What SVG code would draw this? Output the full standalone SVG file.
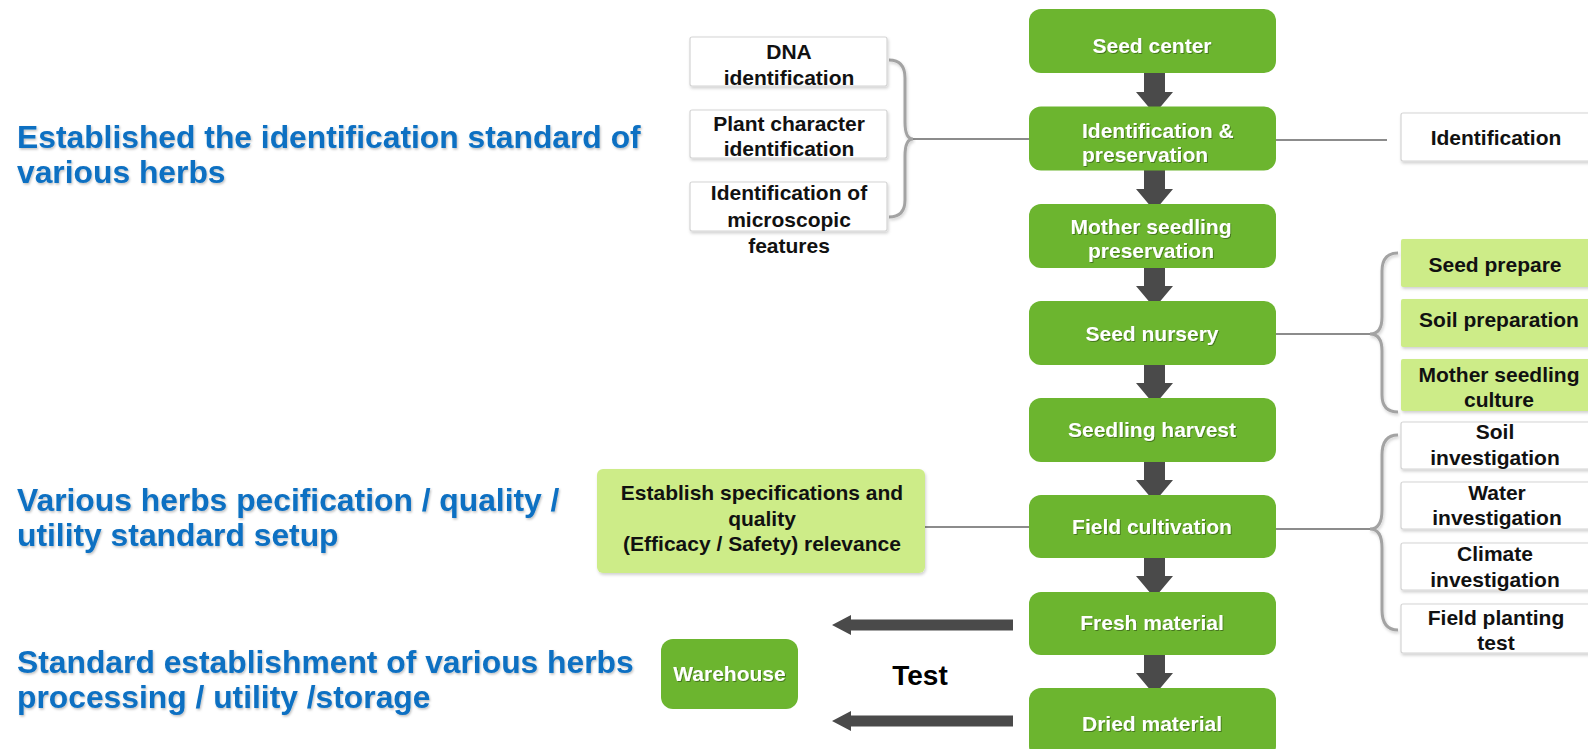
<svg xmlns="http://www.w3.org/2000/svg" width="1588" height="749" viewBox="0 0 1588 749">
<defs>
<filter id="sh" x="-10%" y="-10%" width="120%" height="130%"><feDropShadow dx="1" dy="2" stdDeviation="1.5" flood-color="#000" flood-opacity="0.18"/></filter>
<filter id="ts" x="-5%" y="-20%" width="110%" height="140%"><feDropShadow dx="1" dy="1" stdDeviation="0.6" flood-color="#000" flood-opacity="0.35"/></filter>
<filter id="bs" x="-5%" y="-20%" width="110%" height="140%"><feDropShadow dx="1" dy="1.5" stdDeviation="0.8" flood-color="#000" flood-opacity="0.25"/></filter>
</defs>
<style>
text{font-family:"Liberation Sans",Arial,sans-serif;font-weight:bold}
.head{fill:#0a6fc2;font-size:31.8px}
.main rect{fill:#6cb52f}
.main text{fill:#fff;font-size:21px;text-anchor:middle}
.wb rect{fill:#fff;stroke:#d4d4d4;stroke-width:1.2}
.lg rect{fill:#cdec88}
.wb text,.lg text{fill:#111;font-size:21px;text-anchor:middle}
.ln{stroke:#8c8c8c;stroke-width:2;fill:none}
.br{stroke:#a3a3a3;stroke-width:3;fill:none}
.ar{fill:#4a4a4a}
</style>

<g id="headings" class="head" filter="url(#bs)">
<text x="17" y="148">Established the identification standard of</text>
<text x="17" y="183">various herbs</text>
<text x="17" y="511">Various herbs pecification / quality /</text>
<text x="17" y="546">utility standard setup</text>
<text x="17" y="673">Standard establishment of various herbs</text>
<text x="17" y="708">processing / utility /storage</text>
</g>

<g id="connectors">
<path class="ln" d="M913 139 H1029"/>
<path class="ln" d="M1276 140 H1387"/>
<path class="ln" d="M1276 334 H1370"/>
<path class="ln" d="M1276 529 H1370"/>
<path class="ln" d="M925 527 H1029"/>
<path class="br" filter="url(#sh)" d="M889 60 Q905 60 905 78 V122 Q905 139 913 139 Q905 139 905 156 V200 Q905 217 889 217"/>
<path class="br" filter="url(#sh)" d="M1398 253 Q1382 253 1382 271 V317 Q1382 334 1370 334 Q1382 334 1382 351 V395 Q1382 412 1398 412"/>
<path class="br" filter="url(#sh)" d="M1398 435 Q1382 435 1382 455 V510 Q1382 529 1370 529 Q1382 529 1382 548 V610 Q1382 630 1398 630"/>
<g class="ar">
<path d="M1144 73 H1165 V92 H1173 L1154.5 114 L1136 92 H1144 Z"/>
<path d="M1144 170 H1165 V189 H1173 L1154.5 211 L1136 189 H1144 Z"/>
<path d="M1144 267 H1165 V286 H1173 L1154.5 308 L1136 286 H1144 Z"/>
<path d="M1144 364 H1165 V383 H1173 L1154.5 405 L1136 383 H1144 Z"/>
<path d="M1144 461 H1165 V480 H1173 L1154.5 502 L1136 480 H1144 Z"/>
<path d="M1144 557 H1165 V576 H1173 L1154.5 598 L1136 576 H1144 Z"/>
<path d="M1144 654 H1165 V673 H1173 L1154.5 695 L1136 673 H1144 Z"/>
<path d="M1013 619.5 H851 V615 L832 625 L851 635 V630.5 H1013 Z"/>
<path d="M1013 715.5 H851 V711 L832 721 L851 731 V726.5 H1013 Z"/>
</g>
</g>

<g id="seed-center" class="main"><rect x="1029" y="9" width="247" height="64" rx="12"/><text x="1152" y="53" filter="url(#ts)">Seed center</text></g>
<g id="identification-preservation" class="main"><rect x="1029" y="106.5" width="247" height="64" rx="12"/><text x="1082" y="138" filter="url(#ts)" style="text-anchor:start">Identification &amp;</text><text x="1082" y="162" filter="url(#ts)" style="text-anchor:start">preservation</text></g>
<g id="mother-seedling-preservation" class="main"><rect x="1029" y="204" width="247" height="64" rx="12"/><text x="1151" y="234" filter="url(#ts)">Mother seedling</text><text x="1151" y="258" filter="url(#ts)">preservation</text></g>
<g id="seed-nursery" class="main"><rect x="1029" y="301" width="247" height="64" rx="12"/><text x="1152" y="341" filter="url(#ts)">Seed nursery</text></g>
<g id="seedling-harvest" class="main"><rect x="1029" y="398" width="247" height="64" rx="12"/><text x="1152" y="437" filter="url(#ts)">Seedling harvest</text></g>
<g id="field-cultivation" class="main"><rect x="1029" y="495" width="247" height="63" rx="12"/><text x="1152" y="534" filter="url(#ts)">Field cultivation</text></g>
<g id="fresh-material" class="main"><rect x="1029" y="592" width="247" height="63" rx="12"/><text x="1152" y="630" filter="url(#ts)">Fresh material</text></g>
<g id="dried-material" class="main"><rect x="1029" y="688" width="247" height="70" rx="12"/><text x="1152" y="731" filter="url(#ts)">Dried material</text></g>

<g id="dna-identification" class="wb"><rect x="690" y="37" width="197" height="49" rx="2" filter="url(#sh)"/><text x="789" y="59">DNA</text><text x="789" y="85">identification</text></g>
<g id="plant-character-identification" class="wb"><rect x="690" y="110" width="197" height="48" rx="2" filter="url(#sh)"/><text x="789" y="131">Plant character</text><text x="789" y="156">identification</text></g>
<g id="microscopic-identification" class="wb"><rect x="690" y="182" width="197" height="49" rx="2" filter="url(#sh)"/><text x="789" y="200">Identification of</text><text x="789" y="227">microscopic</text><text x="789" y="253">features</text></g>

<g id="identification" class="wb"><rect x="1401" y="113" width="200" height="48" rx="2" filter="url(#sh)"/><text x="1496" y="145">Identification</text></g>

<g id="seed-prepare" class="lg"><rect x="1401" y="239" width="200" height="48" rx="2" filter="url(#sh)"/><text x="1495" y="272">Seed prepare</text></g>
<g id="soil-preparation" class="lg"><rect x="1401" y="299" width="200" height="48" rx="2" filter="url(#sh)"/><text x="1499" y="327">Soil preparation</text></g>
<g id="mother-seedling-culture" class="lg"><rect x="1401" y="359" width="200" height="52" rx="2" filter="url(#sh)"/><text x="1499" y="382">Mother seedling</text><text x="1499" y="407">culture</text></g>

<g id="soil-investigation" class="wb"><rect x="1401" y="422" width="200" height="47" rx="2" filter="url(#sh)"/><text x="1495" y="439">Soil</text><text x="1495" y="465">investigation</text></g>
<g id="water-investigation" class="wb"><rect x="1401" y="482" width="200" height="47" rx="2" filter="url(#sh)"/><text x="1497" y="500">Water</text><text x="1497" y="525">investigation</text></g>
<g id="climate-investigation" class="wb"><rect x="1401" y="543" width="200" height="47" rx="2" filter="url(#sh)"/><text x="1495" y="561">Climate</text><text x="1495" y="587">investigation</text></g>
<g id="field-planting-test" class="wb"><rect x="1401" y="604" width="200" height="49" rx="2" filter="url(#sh)"/><text x="1496" y="625">Field planting</text><text x="1496" y="650">test</text></g>

<g id="establish-specifications" class="lg"><rect x="597" y="469" width="328" height="104" rx="6" filter="url(#sh)"/><text x="762" y="500">Establish specifications and</text><text x="762" y="526">quality</text><text x="762" y="551">(Efficacy / Safety) relevance</text></g>

<g id="warehouse" class="main"><rect x="661" y="639" width="137" height="70" rx="12"/><text x="729.5" y="681" filter="url(#ts)">Warehouse</text></g>

<g id="test-label"><text x="920" y="685" style="font-size:28px;text-anchor:middle;fill:#000">Test</text></g>
</svg>
